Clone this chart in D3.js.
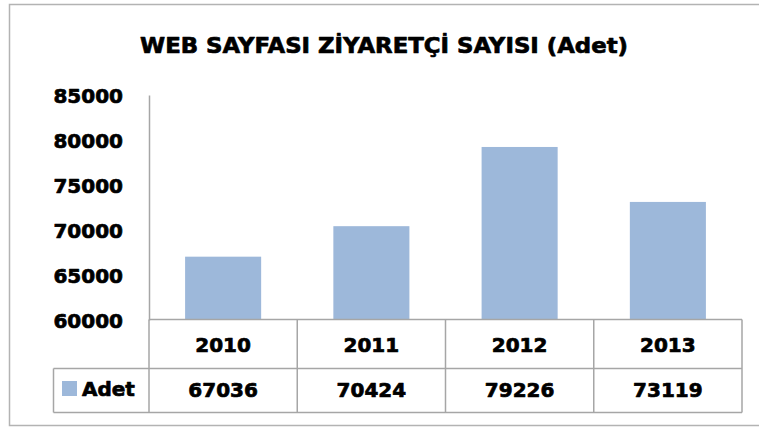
<!DOCTYPE html>
<html><head><meta charset="utf-8">
<script src="https://cdn.jsdelivr.net/npm/d3@7"></script>
<style>html,body{margin:0;padding:0;background:#fff;}svg{display:block;}</style>
</head><body>
<script>
const titleText = "WEB SAYFASI ZİYARETÇİ SAYISI (Adet)";
const seriesName = "Adet";
const categories = ["2010", "2011", "2012", "2013"];
const values = [67036, 70424, 79226, 73119];
const yTicks = [60000, 65000, 70000, 75000, 80000, 85000];

const W = 759, H = 429;
const font = "'DejaVu Sans', sans-serif";
const barColor = "#9DB8DA";
const lineColor = "#A6A6A6";
const heavy = sel => sel.attr("stroke", "#000").attr("stroke-width", 0.7).attr("stroke-linejoin", "round");

const svg = d3.select("body").append("svg").attr("width", W).attr("height", H);
svg.append("rect").attr("width", W).attr("height", H).attr("fill", "#fff");

// outer chart border
svg.append("rect").attr("x", 9.5).attr("y", 4.5).attr("width", 770).attr("height", 421)
  .attr("fill", "none").attr("stroke", "#B3B3B3").attr("stroke-width", 1.5);

// title
svg.append("text").attr("x", 384).attr("y", 53)
  .attr("text-anchor", "middle").attr("font-family", font).attr("font-weight", "bold")
  .attr("font-size", 22).attr("textLength", 488).attr("lengthAdjust", "spacingAndGlyphs")
  .attr("fill", "#000").call(heavy).text(titleText);

const plotL = 149, plotR = 742, plotTop = 95, plotBot = 320;
const x = d3.scaleBand().domain(categories).range([plotL, plotR]).paddingInner(0.487).paddingOuter(0.2435);
const xCol = d3.scaleBand().domain(categories).range([plotL, plotR]).padding(0);
const y = d3.scaleLinear().domain([60000, 85000]).range([plotBot, plotTop]);

// bars
svg.append("g").selectAll("rect").data(values).join("rect")
  .attr("x", (d, i) => x(categories[i]))
  .attr("y", d => y(d))
  .attr("width", x.bandwidth())
  .attr("height", d => y(60000) - y(d))
  .attr("fill", barColor);

// y axis
const yAxis = d3.axisLeft(y).tickValues(yTicks).tickSize(0).tickPadding(26).tickFormat(d3.format("d"));
const gy = svg.append("g").attr("transform", `translate(${plotL},0)`).call(yAxis);
gy.select(".domain").attr("stroke", lineColor).attr("stroke-width", 1.5);
gy.selectAll("text").attr("font-family", font).attr("font-weight", "bold").attr("font-size", 20)
  .attr("fill", "#000").attr("dy", "0.36em").call(heavy);

// data table
const rowTop = 319.5, rowMid = 368.5, rowBot = 412.5, legendL = 53.5;
const tg = svg.append("g").attr("stroke", lineColor).attr("stroke-width", 1.5).attr("fill", "none");
tg.append("line").attr("x1", plotL).attr("x2", plotR).attr("y1", rowTop).attr("y2", rowTop);
tg.append("line").attr("x1", legendL).attr("x2", plotR).attr("y1", rowMid).attr("y2", rowMid);
tg.append("line").attr("x1", legendL).attr("x2", plotR).attr("y1", rowBot).attr("y2", rowBot);
tg.append("line").attr("x1", legendL).attr("x2", legendL).attr("y1", rowMid).attr("y2", rowBot);
const colEdges = categories.map(c => xCol(c)).concat([plotR]);
tg.selectAll("line.v").data(colEdges).join("line").attr("class", "v")
  .attr("x1", d => d).attr("x2", d => d).attr("y1", rowTop).attr("y2", rowBot);

const txt = svg.append("g").attr("font-family", font).attr("font-weight", "bold")
  .attr("font-size", 20).attr("fill", "#000").attr("text-anchor", "middle").call(heavy);
txt.selectAll("text.cat").data(categories).join("text").attr("class", "cat")
  .attr("x", d => xCol(d) + xCol.bandwidth() / 2).attr("y", 352).text(d => d);
txt.selectAll("text.val").data(values).join("text").attr("class", "val")
  .attr("x", (d, i) => xCol(categories[i]) + xCol.bandwidth() / 2).attr("y", 397).text(d => d);

// legend key
svg.append("rect").attr("x", 62).attr("y", 381).attr("width", 15).attr("height", 15).attr("fill", barColor);
svg.append("text").attr("x", 82).attr("y", 396).attr("font-family", font).attr("font-weight", "bold")
  .attr("font-size", 20).attr("fill", "#000").call(heavy).text(seriesName);
</script>
</body></html>
